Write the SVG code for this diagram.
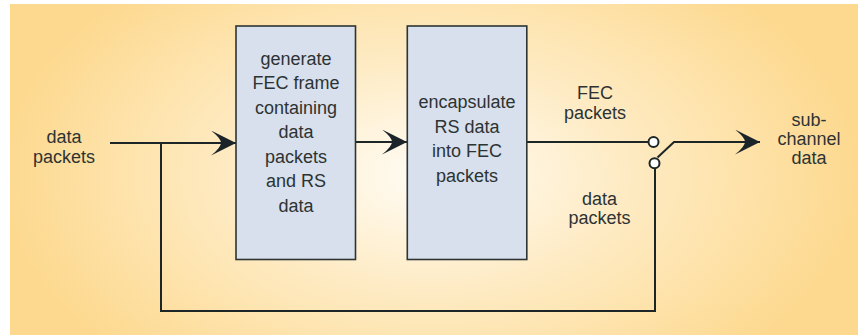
<svg xmlns="http://www.w3.org/2000/svg" width="858" height="335" viewBox="0 0 858 335">
  <defs>
    <radialGradient id="bg" gradientUnits="userSpaceOnUse" cx="430" cy="175" r="430" gradientTransform="translate(430 175) scale(1 0.6) translate(-430 -175)">
      <stop offset="0" stop-color="#fffcf5"/>
      <stop offset="0.45" stop-color="#feebc4"/>
      <stop offset="1" stop-color="#fdd98f"/>
    </radialGradient>
    <marker id="arrow" markerUnits="userSpaceOnUse" markerWidth="30" markerHeight="30" refX="25" refY="12.5" orient="auto" viewBox="0 0 30 30">
      <path d="M25 12.5 L0 0 Q10 8 10 12.5 Q10 17 0 25 Z" fill="#1b2428"/>
    </marker>
  </defs>
  <style>
    .box { fill: #d7e0ec; stroke: #2e3434; stroke-width: 1.6; }
    .t { font-family: "Liberation Sans", Arial, sans-serif; font-size: 18px; fill: #2d3333; text-anchor: middle; }
    .ln { fill: none; stroke: #1c2626; stroke-width: 2; }
    .sw { fill: #ffffff; stroke: #1c2626; stroke-width: 2; }
  </style>
  <rect x="10" y="4" width="848" height="331" fill="url(#bg)"/>

  <g id="connectors">
    <line class="ln" x1="110" y1="143" x2="236" y2="143" marker-end="url(#arrow)"/>
    <polyline class="ln" points="161,143 161,311 655,311 655,168.5"/>
    <line class="ln" x1="356" y1="142" x2="407" y2="142" marker-end="url(#arrow)"/>
    <line class="ln" x1="527" y1="142" x2="648.5" y2="142"/>
    <polyline class="ln" points="657.5,157.5 674,142 760,142" marker-end="url(#arrow)"/>
    <circle class="sw" cx="653.5" cy="142" r="5"/>
    <circle class="sw" cx="654.5" cy="163.3" r="5"/>
  </g>

  <g id="gen-fec">
    <rect class="box" x="236" y="26" width="119.5" height="233.5"/>
    <text class="t" x="296" y="64.5">generate</text>
    <text class="t" x="296" y="89">FEC frame</text>
    <text class="t" x="296" y="113.5">containing</text>
    <text class="t" x="296" y="138">data</text>
    <text class="t" x="296" y="162.5">packets</text>
    <text class="t" x="296" y="187">and RS</text>
    <text class="t" x="296" y="211.5">data</text>
  </g>

  <g id="encapsulate">
    <rect class="box" x="407.3" y="26" width="119.5" height="233.5"/>
    <text class="t" x="467" y="108.3">encapsulate</text>
    <text class="t" x="467" y="132.7">RS data</text>
    <text class="t" x="467" y="157.2">into FEC</text>
    <text class="t" x="467" y="181.7">packets</text>
  </g>

  <g id="input-label">
    <text class="t" x="64" y="143.3">data</text>
    <text class="t" x="64" y="163.3">packets</text>
  </g>

  <g id="fec-label">
    <text class="t" x="595" y="99.3">FEC</text>
    <text class="t" x="595" y="118.5">packets</text>
  </g>

  <g id="data-label">
    <text class="t" x="599.5" y="205">data</text>
    <text class="t" x="599.5" y="224">packets</text>
  </g>

  <g id="output-label">
    <text class="t" x="809" y="126">sub-</text>
    <text class="t" x="809" y="145">channel</text>
    <text class="t" x="809" y="163.5">data</text>
  </g>
</svg>
